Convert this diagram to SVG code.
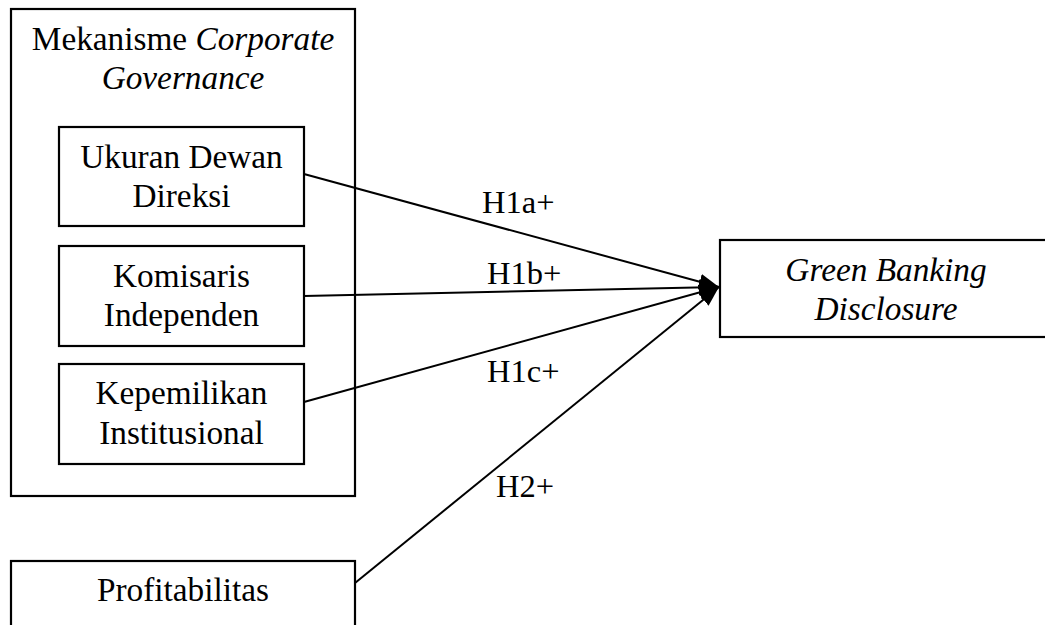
<svg xmlns="http://www.w3.org/2000/svg" width="1045" height="625" viewBox="0 0 1045 625">
<style>
.box{fill:#fff;stroke:#000;stroke-width:2.2}
.t{font-family:"Liberation Serif","Times New Roman",serif;font-size:33.3px;fill:#000;text-anchor:middle}
.l{font-family:"Liberation Serif","Times New Roman",serif;font-size:32.5px;fill:#000}
.i{font-style:italic}
</style>
<defs>
<marker id="ah2" viewBox="0 0 10 10" refX="10" refY="5" markerWidth="20" markerHeight="20" markerUnits="userSpaceOnUse" orient="auto">
<path d="M0,1 L10,5 L0,9 z" fill="#000"/>
</marker>
</defs>
<g id="cg">
<rect class="box" x="11" y="9" width="344" height="487"/>
<text class="t" x="183" y="50">Mekanisme <tspan class="i">Corporate</tspan></text>
<text class="t i" x="183" y="89">Governance</text>
</g>
<g id="ukuran">
<rect class="box" x="59" y="127" width="245" height="99"/>
<text class="t" x="181.5" y="168">Ukuran Dewan</text>
<text class="t" x="181.5" y="207">Direksi</text>
</g>
<g id="komisaris">
<rect class="box" x="59" y="246" width="245" height="100"/>
<text class="t" x="181.5" y="287">Komisaris</text>
<text class="t" x="181.5" y="326">Independen</text>
</g>
<g id="kepemilikan">
<rect class="box" x="59" y="364" width="245" height="100"/>
<text class="t" x="181.5" y="404">Kepemilikan</text>
<text class="t" x="181.5" y="444">Institusional</text>
</g>
<g id="profit">
<rect class="box" x="11" y="561" width="344" height="80"/>
<text class="t" x="183" y="601">Profitabilitas</text>
</g>
<g id="gbd">
<rect class="box" x="720" y="240" width="340" height="97"/>
<text class="t i" x="886" y="281">Green Banking</text>
<text class="t i" x="886" y="320">Disclosure</text>
</g>
<g id="connectors">
<line x1="304" y1="174" x2="719" y2="287" stroke="#000" stroke-width="2" marker-end="url(#ah2)"/>
<line x1="304" y1="296" x2="719" y2="287" stroke="#000" stroke-width="2" marker-end="url(#ah2)"/>
<line x1="304" y1="402" x2="719" y2="287" stroke="#000" stroke-width="2" marker-end="url(#ah2)"/>
<line x1="355" y1="583" x2="719" y2="287" stroke="#000" stroke-width="2" marker-end="url(#ah2)"/>
<text class="l" x="482" y="213">H1a+</text>
<text class="l" x="487" y="284">H1b+</text>
<text class="l" x="487" y="382">H1c+</text>
<text class="l" x="496" y="497">H2+</text>
</g>
</svg>
